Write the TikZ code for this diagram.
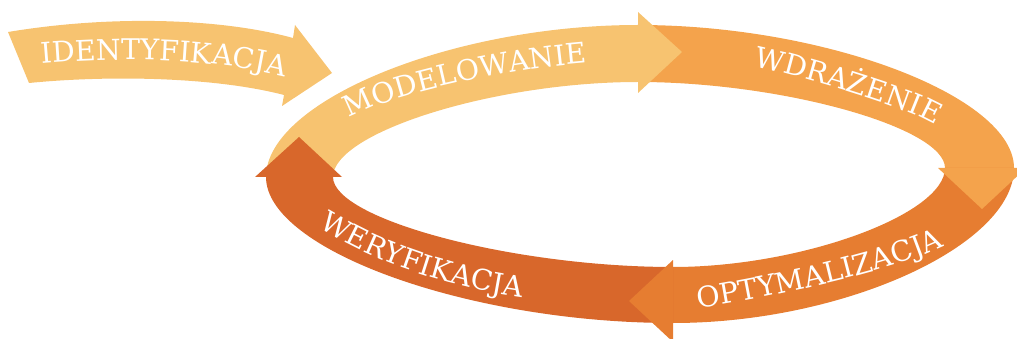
\documentclass[tikz,border=0pt]{standalone}
\usepackage{fontspec}
\newfontfamily\lblfont{DejaVu Serif}
\usetikzlibrary{decorations.text}
\definecolor{cMod}{HTML}{F7C370}
\definecolor{cWdr}{HTML}{F4A34C}
\definecolor{cOpt}{HTML}{E67D31}
\definecolor{cWer}{HTML}{D8672B}
\newcommand\lblsize{\lblfont\fontsize{28.5}{32}\selectfont}
\tikzset{
  label along/.style={decorate, decoration={text along path, text align=center,
      text color=white, text={|\lblsize|#1}}}
}
\begin{document}
\begin{tikzpicture}[x=1pt,y=-1pt]
\useasboundingbox (0,0) rectangle (1017,339);
\clip (0,0) rectangle (1017,339);

% ring extremes: outer and inner edge of the cycle
\coordinate (Lo) at (266,177);
\coordinate (To) at (638,25);
\coordinate (Ro) at (1014,168);
\coordinate (Bo) at (673,323);
\coordinate (Li) at (333,177);
\coordinate (Ti) at (638,82);
\coordinate (Ri) at (945,168);
\coordinate (Bi) at (673,267);

% entry arrow
\fill[cMod] (8,32) .. controls (110,15) and (220,18) .. (293,38)
  -- (295,25) -- (332,73) -- (282,106) -- (284,95)
  .. controls (215,77) and (110,75) .. (29,83) -- cycle;

% the four quarter bands of the cycle
\fill[cMod] (Lo) .. controls (266,101) and (452,25) .. (To)
  -- (Ti) .. controls (494.65,82) and (333,132.35) .. (Li) -- cycle;
\fill[cWdr] (To) .. controls (826,25) and (1014,96.5) .. (Ro)
  -- (Ri) .. controls (945,127.6) and (782.3,82) .. (Ti) -- cycle;
\fill[cOpt] (Ro) .. controls (1014,245.5) and (843.5,323) .. (Bo)
  -- (Bi) .. controls (800.8,267) and (945,214.5) .. (Ri) -- cycle;
\fill[cWer] (Bo) .. controls (469.5,323) and (266,250) .. (Lo)
  -- (Li) .. controls (333,219.3) and (513.2,267) .. (Bi) -- cycle;

% arrow heads at the end of each band
\fill[cMod] (638,12) -- (682,52) -- (638,93) -- cycle;
\fill[cWdr] (938,168) -- (1026,168) -- (982,209) -- cycle;
\fill[cOpt] (673,260) -- (673,342) -- (629,301) -- cycle;
\fill[cWer] (255,177) -- (342,177) -- (299,137) -- cycle;

% labels set along the bands
\path[label along={IDENTYFIKACJA}] (-19.8,69.2) -- (40,64)
  .. controls (119.7,57) and (208.4,57.6) .. (286,77) -- (344,91.5);
\path[label along={MODELOWANIE}] (298,148) -- (350,118)
  .. controls (393,93) and (510,69) .. (586,63) -- (646,58);
\path[label along={WDRAŻENIE}] (698,56.6) -- (757,67)
  .. controls (786.5,72.2) and (907.8,107.6) .. (933,124) -- (983,156.7);
\path[label along={OPTYMALIZACJA}] (635.6,317.3) -- (695,309)
  .. controls (754.4,300.6) and (895,272.2) .. (948,244) -- (1001,215.8);
\path[label along={WERYFIKACJA}] (269.1,196.2) -- (320,228)
  .. controls (379.4,265.1) and (450.7,287.3) .. (520,297) -- (579.4,305.3);
\end{tikzpicture}
\end{document}
